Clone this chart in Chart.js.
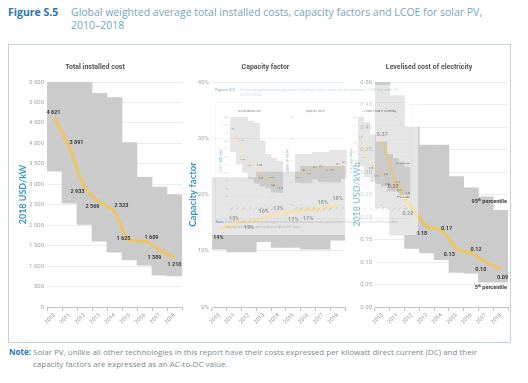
<!DOCTYPE html>
<html><head><meta charset="utf-8">
<script src="https://cdn.jsdelivr.net/npm/chart.js@4.4.1/dist/chart.umd.min.js"></script>
<style>
html,body{margin:0;padding:0;background:#fff;}
body{width:528px;height:383px;overflow:hidden;position:relative;}
.fig{position:absolute;left:0;top:0;width:528px;height:383px;background:#fff;font-family:'Open Sans',sans-serif;}
.ttl{position:absolute;left:8px;top:6px;font-size:10.5px;line-height:13px;color:#72a8c2;white-space:nowrap;}
.ttl b{position:absolute;left:0;top:0;color:#2476b4;font-size:10.5px;}
.ttl span{position:absolute;left:63px;top:0;}
.frame{position:absolute;left:8px;top:44px;width:503px;height:299px;border:1px solid #c3d3da;box-sizing:border-box;}
.fig canvas{position:absolute;}
.note{position:absolute;left:9px;top:346px;width:515px;font-size:8px;line-height:12px;color:#7a8a90;white-space:nowrap;}
.note b{color:#2476b4;}
.note span{padding-left:24px;}
.overlay{position:absolute;left:212px;top:85px;width:528px;height:383px;transform:scale(0.39);transform-origin:0 0;opacity:0.5;}
</style>
</head><body>
<div id="main" class="fig"></div>
<div id="mini" class="fig overlay"></div>
<script>
// ---------- data ----------
const years = ['2010','2011','2012','2013','2014','2015','2016','2017','2018'];

const costAvg = [4621, 3891, 2933, 2569, 2323, 1625, 1609, 1389, 1210];
const costP95 = [5500, 5500, 5500, 5220, 5120, 4020, 3170, 2930, 2750];
const costP5  = [3320, 2540, 2020, 1610, 1340, 1150, 1020, 780, 760];
const costTicks = [0, 500, 1000, 1500, 2000, 2500, 3000, 3500, 4000, 4500, 5000, 5500];

const cfAvg = [13.8, 14.7, 15.2, 15.8, 16.6, 16.9, 17.2, 17.6, 18.0];
const cfP95 = [23, 23, 23, 24, 24, 24, 25, 25, 25];
const cfP5  = [10.3, 9.8, 9.8, 11.6, 10.6, 10.6, 10.3, 10.3, 11.9];
const cfTicks = [0, 10, 20, 30, 40];

const lcoeAvg = [0.37, 0.27, 0.22, 0.18, 0.17, 0.13, 0.12, 0.10, 0.085];
const lcoeP95 = [0.50, 0.47, 0.40, 0.36, 0.36, 0.29, 0.265, 0.245, 0.215];
const lcoeP5  = [0.22, 0.16, 0.13, 0.12, 0.105, 0.077, 0.075, 0.055, 0.055];
const lcoeTicks = [0, 0.05, 0.10, 0.15, 0.20, 0.25, 0.30, 0.35, 0.40, 0.45, 0.50];

// ---------- styles ----------
const BOX = '#cbcbcb';
const LINE = 'rgba(240,196,84,0.9)';
const TEAL = '#3596be';
// label offsets (px) relative to each point
const costOffsets = [[-1,-5],[7,-5],[-7,5],[-7,5],[7,-6],[-6,-2],[7,-4],[-5,7],[0,7]];
const cfOffsets   = [[-1,8],[0,-6],[0,6],[0,-7],[0,-5],[0,8],[0,8],[0,-5],[0,-7]];
const lcoeOffsets = [[0,-6],[-4,1],[-4,6],[-5,8],[5,-2],[-7,6],[5,-3],[-5,8],[2,9]];

Chart.defaults.font.family = 'Roboto';

const valueLabels = {
  id: 'valueLabels',
  afterDatasetsDraw(chart, args, opts) {
    if (!opts || !opts.fmt) return;
    const meta = chart.getDatasetMeta(0);
    const ctx = chart.ctx;
    ctx.save();
    ctx.font = 'bold 5.5px Roboto';
    ctx.fillStyle = '#3a3a3a';
    ctx.textAlign = 'center';
    ctx.textBaseline = 'middle';
    meta.data.forEach((pt, i) => {
      const o = opts.offsets[i] || [0,0];
      ctx.fillText(opts.fmt(chart.data.datasets[0].data[i]), pt.x + o[0], pt.y + o[1]);
    });
    ctx.restore();
  }
};

const pctNotes = {
  id: 'pctNotes',
  afterDatasetsDraw(chart, args, opts) {
    if (!opts || !opts.show) return;
    const ctx = chart.ctx;
    const bars = chart.getDatasetMeta(1).data;
    const last = bars[bars.length - 1];
    const right = chart.chartArea.right - 1;
    function sup(num, y) {
      ctx.save();
      ctx.fillStyle = '#3a3a3a';
      ctx.textBaseline = 'middle';
      ctx.textAlign = 'left';
      const big = 'bold 5.5px Roboto', small = 'bold 3.5px Roboto';
      ctx.font = big; const w1 = ctx.measureText(num).width; const w3 = ctx.measureText(' percentile').width;
      ctx.font = small; const w2 = ctx.measureText('th').width;
      let x = right - (w1 + w2 + w3);
      ctx.font = big; ctx.fillText(num, x, y); x += w1;
      ctx.font = small; ctx.fillText('th', x, y - 1.5); x += w2;
      ctx.font = big; ctx.fillText(' percentile', x, y);
      ctx.restore();
    }
    sup('95', Math.min(last.y, last.base) - 9);
    sup('5', Math.max(last.y, last.base) + 5);
  }
};

const spaceFmt = v => String(Math.round(v)).replace(/\B(?=(\d{3})+(?!\d))/g, ' ');

function makeConfig(p) {
  return {
    type: 'bar',
    data: {
      labels: years,
      datasets: [
        { type: 'line', data: p.avg, borderColor: LINE, borderWidth: 3, pointRadius: 0,
          cubicInterpolationMode: 'monotone', fill: false, order: 0 },
        { type: 'bar', data: p.lo.map((v, i) => [v, p.hi[i]]), backgroundColor: BOX,
          borderWidth: 0, barPercentage: 1, categoryPercentage: 1, order: 1 }
      ]
    },
    options: {
      responsive: false, animation: false, devicePixelRatio: 1,
      layout: { padding: { left: 0, right: p.padR, top: 0, bottom: 0 } },
      plugins: {
        legend: { display: false }, tooltip: { enabled: false },
        title: { display: true, text: p.title, color: '#555', font: { size: 7, weight: 'bold', family: 'Roboto' },
                 padding: { top: 18.8, bottom: 10.8 } },
        valueLabels: { fmt: p.fmt, offsets: p.offsets },
        pctNotes: { show: !!p.notes }
      },
      scales: {
        x: {
          grid: { display: true, drawOnChartArea: false, drawTicks: true, tickLength: 4, color: '#c4c4c4', offset: true },
          border: { display: true, color: '#c4c4c4' },
          ticks: { autoSkip: false, minRotation: 45, maxRotation: 45, color: '#9a9a9a', font: { size: 5.5 }, padding: 1 },
          afterFit(s) { s.height = 35; }
        },
        y: {
          min: p.ticks[0], max: p.ticks[p.ticks.length - 1],
          afterBuildTicks(s) { s.ticks = p.ticks.map(v => ({ value: v })); },
          ticks: { callback: p.tickFmt, color: '#a5a5a5', font: { size: 6 }, padding: 3 },
          grid: { color: '#ececec', drawTicks: false },
          border: { display: false },
          title: { display: true, text: p.yTitle, color: TEAL, font: { size: p.yTitleSize, weight: 'bold', family: 'Lato' },
                   padding: { top: p.yTitlePad, bottom: 0 } },
          afterFit(s) { s.width = p.yWidth; }
        }
      }
    },
    plugins: [valueLabels, pctNotes]
  };
}

function buildFigure(root) {
  root.innerHTML =
    '<div class="ttl"><b>Figure S.5</b><span>Global weighted average total installed costs, capacity factors and LCOE for solar PV,<br>2010–2018</span></div>' +
    '<div class="frame"></div>' +
    '<canvas width="178" height="298" style="left:8px;top:44px"></canvas>' +
    '<canvas width="164" height="298" style="left:186px;top:44px"></canvas>' +
    '<canvas width="161" height="298" style="left:350px;top:44px"></canvas>' +
    '<div class="note"><b>Note:</b> Solar PV, unlike all other technologies in this report have their costs expressed per kilowatt direct current (DC) and their<br><span>capacity factors are expressed as an AC-to-DC value.</span></div>';
  const cv = root.querySelectorAll('canvas');
  new Chart(cv[0], makeConfig({
    avg: costAvg, lo: costP5, hi: costP95, ticks: costTicks, tickFmt: v => spaceFmt(v), fmt: spaceFmt,
    offsets: costOffsets, title: 'Total installed cost', yTitle: '2018 USD/kW', yTitleSize: 9, yTitlePad: 10,
    yWidth: 39, padR: 4
  }));
  new Chart(cv[1], makeConfig({
    avg: cfAvg, lo: cfP5, hi: cfP95, ticks: cfTicks, tickFmt: v => v + '%', fmt: v => Math.round(v) + '%',
    offsets: cfOffsets, title: 'Capacity factor', yTitle: 'Capacity factor', yTitleSize: 9.5, yTitlePad: 1.3,
    yWidth: 26, padR: 5
  }));
  new Chart(cv[2], makeConfig({
    avg: lcoeAvg, lo: lcoeP5, hi: lcoeP95, ticks: lcoeTicks, tickFmt: v => v.toFixed(2), fmt: v => v.toFixed(2),
    offsets: lcoeOffsets, title: 'Levelised cost of electricity', yTitle: '2018 USD/kWh', yTitleSize: 9, yTitlePad: 1.6,
    yWidth: 25, padR: 3, notes: true
  }));
}

buildFigure(document.getElementById('main'));
buildFigure(document.getElementById('mini'));
</script>
</body></html>
